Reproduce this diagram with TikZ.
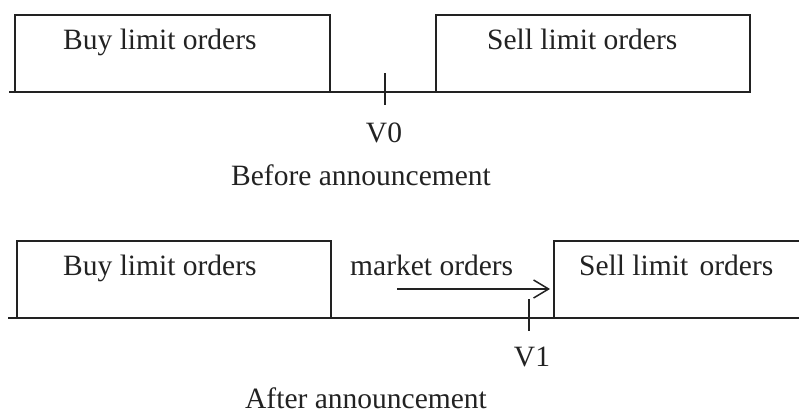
\documentclass[tikz,border=0pt]{standalone}
\usepackage{fontspec}
\setmainfont{Liberation Serif}
\usetikzlibrary{arrows.meta}
\definecolor{ink}{HTML}{222222}
\tikzset{
  book/.style={draw=ink, line width=1.5pt, inner sep=0pt, outer sep=0pt},
  axis/.style={draw=ink, line width=1.5pt},
  tickmark/.style={draw=ink, line width=1.5pt},
  lbl/.style={anchor=base west, inner sep=0pt, text=ink, font=\fontsize{29.5}{34}\selectfont},
  clbl/.style={anchor=base, inner sep=0pt, text=ink, font=\fontsize{29.5}{34}\selectfont},
  flow/.style={draw=ink, line width=1.5pt, -{Straight Barb[length=15pt,width=18pt,line width=1.5pt]}}
}
\begin{document}
\begin{tikzpicture}[x=1pt,y=-1pt]
\useasboundingbox (0,0) rectangle (799,412);

% --- before the announcement ---
\node[book, minimum width=315pt, minimum height=77pt] (buyA) at (172.5,53.5) {};
\node[book, minimum width=314pt, minimum height=77pt] (sellA) at (593,53.5) {};
\coordinate (axAl) at (9,92);
\coordinate (axAr) at (751,92);
\draw[axis] (axAl) -- (axAr);
\node[lbl] (buyAtxt) at (63,49) {Buy limit orders};
\node[lbl] (sellAtxt) at (487,49) {Sell limit orders};
\coordinate (tickAt) at (385,73);
\coordinate (tickAb) at (385,105);
\draw[tickmark] (tickAt) -- (tickAb);
\node[clbl] (vzero) at (384,142) {V0};
\node[clbl] (before) at (361,185) {Before announcement};

% --- after the announcement ---
\node[book, minimum width=314pt, minimum height=77pt] (buyB) at (174,279.5) {};
\node[book, minimum width=260pt, minimum height=77pt] (sellB) at (684,279.5) {};
\coordinate (axBl) at (8,318);
\coordinate (axBr) at (812,318);
\draw[axis] (axBl) -- (axBr);
\node[lbl] (buyBtxt) at (63,275) {Buy limit orders};
\node[lbl] (mkttxt) at (350,275) {market orders};
\node[lbl] (sellBtxt) at (579,275) {Sell limit\hspace{4pt} orders};
\coordinate (mktstart) at (397,289);
\draw[flow] (mktstart) -- (mktstart -| sellB.west) [shorten >=4pt];
\coordinate (tickBt) at (529,299);
\coordinate (tickBb) at (529,331);
\draw[tickmark] (tickBt) -- (tickBb);
\node[clbl] (vone) at (532,366) {V1};
\node[clbl] (after) at (366,408) {After announcement};
\end{tikzpicture}
\end{document}
